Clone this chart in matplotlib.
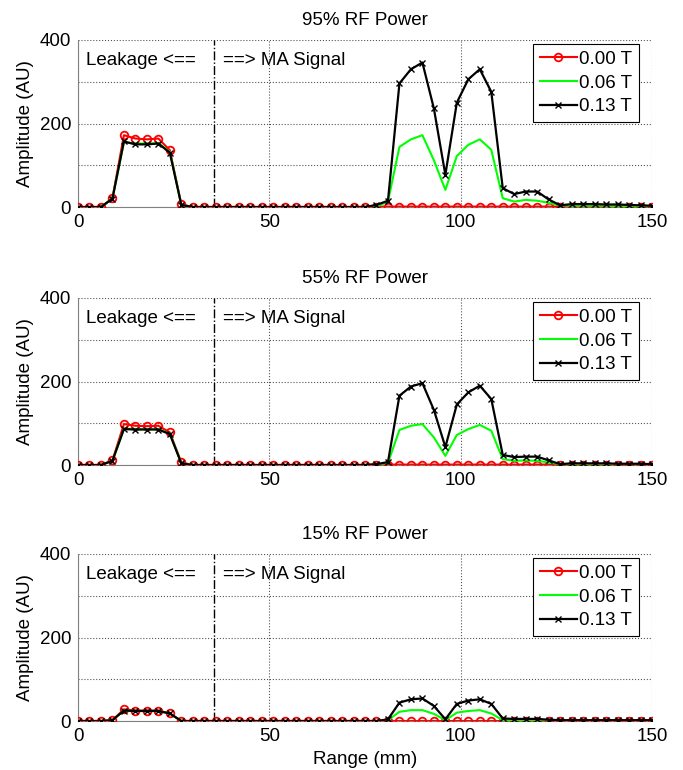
import numpy as np
import matplotlib.pyplot as plt

plt.rcParams['font.family'] = ['Liberation Sans', 'DejaVu Sans']
plt.rcParams['font.size'] = 13.5

# range axis, one sample every 3 mm
rng = np.arange(0, 151, 3)

# 95% RF power
p95_000 = [0, 0, 0, 21, 172, 164, 162, 164, 136, 6, 0, 0, 0, 0, 0, 0, 0, 0, 0, 0,
           0, 0, 0, 0, 0, 0, 1, 1, 1, 1, 1, 1, 1, 1, 1, 1, 1, 1, 1, 1,
           1, 1, 1, 1, 1, 1, 1, 1, 1, 1, 1]
p95_006 = [0, 0, 0, 20, 155, 152, 152, 153, 132, 5, 0, 0, 0, 0, 0, 0, 0, 0, 0, 0,
           0, 0, 0, 0, 0, 0, 1, 13, 144, 162, 172, 112, 41, 122, 149, 162, 137, 21, 13, 17,
           15, 10, 4, 3, 3, 3, 3, 2, 2, 1, 0]
p95_013 = [0, 0, 0, 20, 157, 150, 150, 152, 130, 5, 0, 0, 0, 0, 0, 0, 0, 0, 0, 0,
           0, 0, 0, 0, 0, 0, 5, 15, 296, 330, 346, 236, 77, 250, 306, 330, 276, 45, 31, 37,
           37, 18, 4, 7, 7, 7, 6, 6, 5, 4, 3]

# 55% RF power
p55_000 = [0, 0, 0, 11, 98, 94, 93, 94, 78, 6, 0, 0, 0, 0, 0, 0, 0, 0, 0, 0,
           0, 0, 0, 0, 0, 0, 1, 1, 1, 1, 1, 1, 1, 1, 1, 1, 1, 1, 1, 1,
           1, 1, 1, 1, 1, 1, 1, 1, 1, 1, 1]
p55_006 = [0, 0, 0, 10, 87, 86, 86, 86, 75, 4, 0, 0, 0, 0, 0, 0, 0, 0, 0, 0,
           0, 0, 0, 0, 0, 0, 1, 5, 84, 94, 98, 66, 22, 72, 86, 96, 82, 14, 10, 11,
           10, 6, 2, 2, 2, 2, 2, 2, 1, 1, 1]
p55_013 = [0, 0, 0, 10, 86, 85, 85, 85, 74, 4, 0, 0, 0, 0, 0, 0, 0, 0, 0, 0,
           0, 0, 0, 0, 0, 0, 2, 7, 166, 188, 196, 132, 43, 145, 174, 190, 158, 24, 19, 20,
           20, 11, 2, 4, 4, 4, 4, 3, 3, 3, 2]

# 15% RF power
p15_000 = [0, 0, 0, 2, 28, 25, 25, 25, 18, 0, 0, 0, 0, 0, 0, 0, 0, 0, 0, 0,
           0, 0, 0, 0, 0, 0, 0, 0, 0, 0, 0, 0, 0, 0, 0, 0, 0, 0, 0, 0,
           0, 0, 0, 0, 0, 0, 0, 0, 0, 0, 0]
p15_006 = [0, 0, 0, 2, 25, 24, 24, 24, 18, 0, 0, 0, 0, 0, 0, 0, 0, 0, 0, 0,
           0, 0, 0, 0, 0, 0, 0, 2, 22, 26, 26, 17, 2, 20, 24, 26, 18, 2, 2, 2,
           2, 1, 1, 1, 1, 1, 1, 1, 1, 0, 0]
p15_013 = [0, 0, 0, 2, 25, 24, 24, 24, 18, 0, 0, 0, 0, 0, 0, 0, 0, 0, 0, 0,
           0, 0, 0, 0, 0, 0, 0, 4, 44, 52, 54, 36, 4, 41, 49, 52, 41, 6, 5, 5,
           5, 3, 2, 2, 2, 2, 2, 2, 2, 2, 2]

titles = ["95% RF Power", "55% RF Power", "15% RF Power"]
series = [(p95_000, p95_006, p95_013),
          (p55_000, p55_006, p55_013),
          (p15_000, p15_006, p15_013)]
labels = ["0.00 T", "0.06 T", "0.13 T"]
split_mm = 35.5

fig = plt.figure(figsize=(6.83, 7.70), dpi=100)
# axes boxes in pixels: left 78, right 652; tops 40/298/554, height ~167
tops = [40, 298, 554]
for i in range(3):
    top = tops[i]
    ax = fig.add_axes([78/683, 1 - (top + 167)/770, 574/683, 167/770])
    d0, d1, d2 = series[i]
    ax.plot(rng, d0, "-o", color="red", lw=1.5, ms=5.5, mfc="none", mew=1.3, label=labels[0], zorder=3)
    ax.plot(rng, d1, "-", color="#00ff00", lw=1.5, label=labels[1], zorder=4)
    ax.plot(rng, d2, "-x", color="black", lw=1.6, ms=4, mew=1.0, label=labels[2], zorder=5)
    ax.axvline(split_mm, color="black", ls="-.", lw=1.0)
    ax.text(2.0, 350, "Leakage <==", va="center", ha="left")
    ax.text(38, 350, "==> MA Signal", va="center", ha="left")
    ax.set_xlim(0, 150)
    ax.set_ylim(0, 400)
    ax.set_xticks([0, 50, 100, 150])
    ax.set_yticks([0, 100, 200, 300, 400])
    ax.set_yticklabels(["0", "", "200", "", "400"])
    ax.tick_params(length=0, pad=5)
    ax.grid(True, ls=":", color="#555555", lw=0.8)
    for s in ["top", "right"]:
        ax.spines[s].set_visible(False)
    for s in ["left", "bottom"]:
        ax.spines[s].set_color("#808080")
    ax.set_title(titles[i], fontsize=13.5, pad=11)
    ax.set_ylabel("Amplitude (AU)", labelpad=4)
    leg = ax.legend(loc="upper right", handlelength=2.0, handletextpad=0.1,
                    borderpad=0.35, labelspacing=0.35, fancybox=False, framealpha=1,
                    edgecolor="black", bbox_to_anchor=(0.993, 1.03))
    leg.get_frame().set_linewidth(0.8)
    if i == 2:
        ax.set_xlabel("Range (mm)")

fig.savefig("out.png", dpi=100)
